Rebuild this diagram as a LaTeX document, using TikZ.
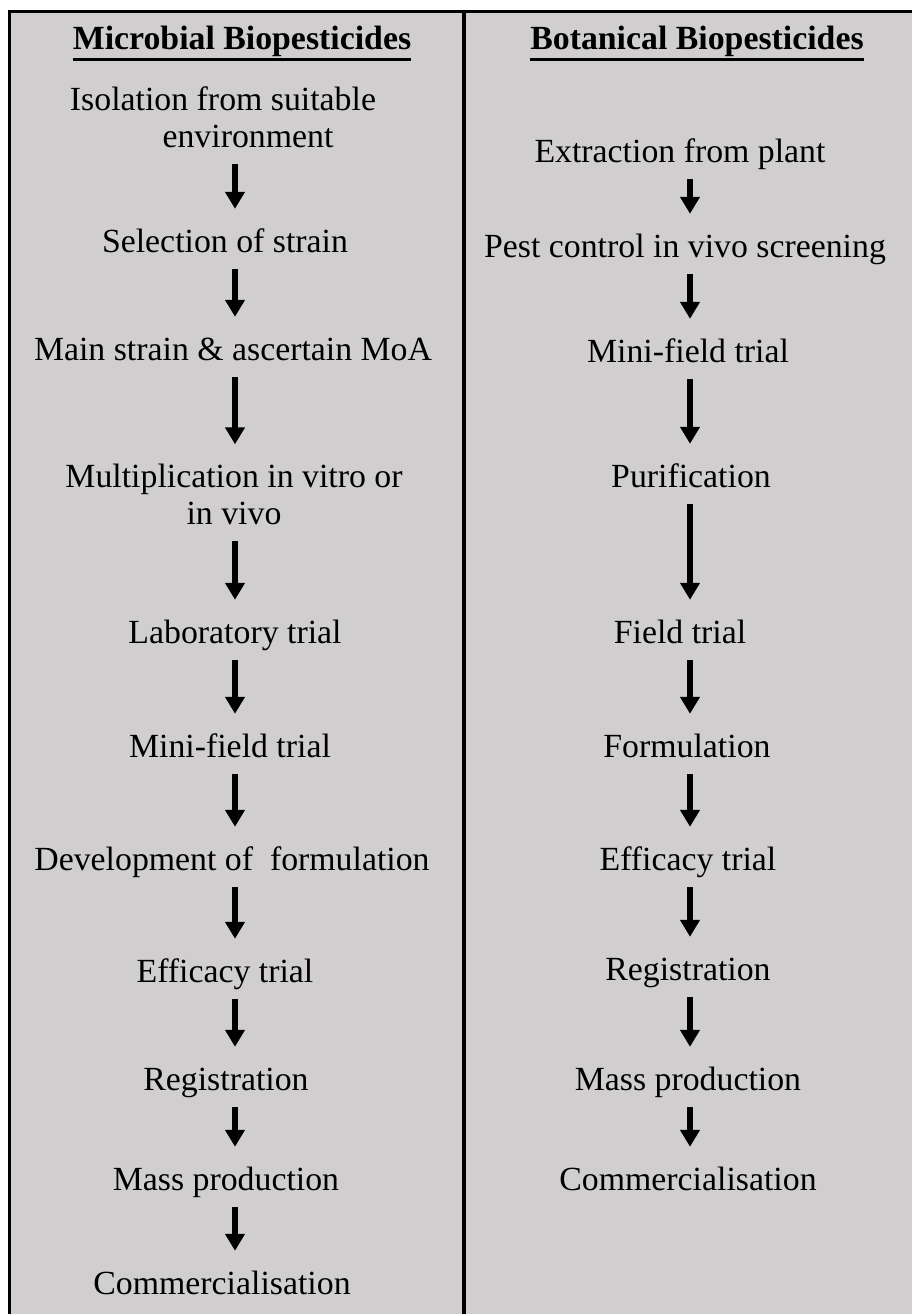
\documentclass[tikz,border=0pt]{standalone}
\usepackage{fontspec}
\setmainfont{Liberation Serif}
\usetikzlibrary{arrows.meta}
\definecolor{panel}{RGB}{208,206,207}
\begin{document}
\begin{tikzpicture}[x=1pt,y=-1pt,
  stage/.style={font=\fontsize{33.8}{37}\selectfont, inner sep=0pt, align=center,
                anchor=base, text height=24pt, text depth=8pt},
  stagetwo/.style={font=\fontsize{33.8}{37}\selectfont, inner sep=0pt, align=center,
                anchor=base, text depth=8pt},
  head/.style={font=\fontsize{33.8}{37}\selectfont\bfseries, inner sep=0pt, anchor=base},
  flow/.style={line width=6.5pt, -{Triangle[width=19pt,length=17pt]},
               shorten <=9pt, shorten >=19pt},
  uline/.style={line width=2.8pt}]
\useasboundingbox (0,0) rectangle (912,1314);
% panel background, outer frame and column divider
\begin{scope}
  \clip (0,0) rectangle (912,1314);
  \fill[panel] (9.5,11.5) rectangle (940,1340);
  \draw[line width=3pt] (9.5,1340) -- (9.5,11.5) -- (940,11.5);
  \draw[line width=4pt] (464,11.5) -- (464,1340);
\end{scope}

% arrow axes of the two columns
\coordinate (axl) at (235,0);
\coordinate (axr) at (690,0);

% column headings
\node[head] (hl) at (242,50) {Microbial Biopesticides};
\node[head] (hr) at (697,50) {Botanical Biopesticides};
\draw[uline] ([yshift=-9.5pt]hl.base west) -- ([yshift=-9.5pt]hl.base east);
\draw[uline] ([yshift=-9.5pt]hr.base west) -- ([yshift=-9.5pt]hr.base east);

% microbial pipeline
\node[stagetwo] (l1) at (234,147) {Isolation from suitable\kern22pt\\\kern28pt environment};
\node[stage] (l2)  at (225,252)  {Selection of strain};
\node[stage] (l3)  at (233,360)  {Main strain \& ascertain MoA};
\node[stagetwo] (l4) at (234,524) {Multiplication in vitro or\\in vivo};
\node[stage] (l5)  at (235,643)  {Laboratory trial};
\node[stage] (l6)  at (230,757)  {Mini-field trial};
\node[stage] (l7)  at (232,870)  {Development of\ \ formulation};
\node[stage] (l8)  at (225,982)  {Efficacy trial};
\node[stage] (l9)  at (226,1090) {Registration};
\node[stage] (l10) at (226,1190) {Mass production};
\node[stage] (l11) at (222,1294) {Commercialisation};

\foreach \a/\b in {l1/l2,l2/l3,l3/l4,l4/l5,l5/l6,l6/l7,l7/l8,l8/l9,l9/l10,l10/l11}
  \draw[flow] (\a.south -| axl) -- (\b.north -| axl);

% botanical pipeline
\node[stage] (r1)  at (680,162)  {Extraction from plant};
\node[stage] (r2)  at (685,257)  {Pest control in vivo screening};
\node[stage] (r3)  at (688,362)  {Mini-field trial};
\node[stage] (r4)  at (691,487)  {Purification};
\node[stage] (r5)  at (680,643)  {Field trial};
\node[stage] (r6)  at (687,757)  {Formulation};
\node[stage] (r7)  at (688,870)  {Efficacy trial};
\node[stage] (r8)  at (688,980)  {Registration};
\node[stage] (r9)  at (688,1090) {Mass production};
\node[stage] (r10) at (688,1190) {Commercialisation};

\foreach \a/\b in {r1/r2,r2/r3,r3/r4,r4/r5,r5/r6,r6/r7,r7/r8,r8/r9,r9/r10}
  \draw[flow] (\a.south -| axr) -- (\b.north -| axr);
\end{tikzpicture}
\end{document}
